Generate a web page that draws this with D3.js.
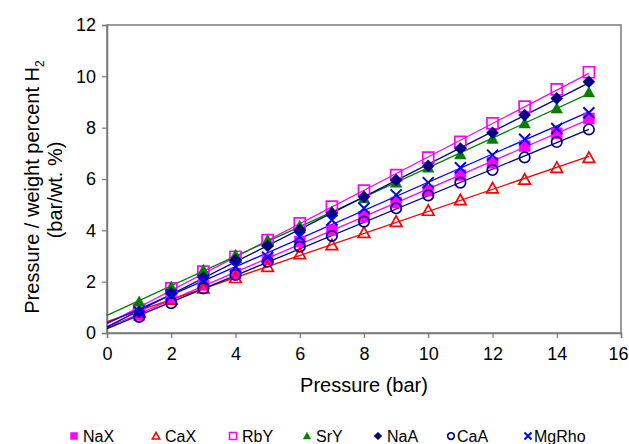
<!DOCTYPE html>
<head>
<meta charset="utf-8">
<style>
body { margin: 0; background: #fff; }
text { font-family: "Liberation Sans", Arial, sans-serif; fill: #000; }
.trend { fill: none; stroke-width: 1.3px; }
</style>
</head>
<body>
<script src="https://cdn.jsdelivr.net/npm/d3@7"></script>
<script>

// pressure points (bar)
var pressures = [1, 2, 3, 4, 5, 6, 7, 8, 9, 10, 11, 12, 13, 14, 15];

// pressure / wt% H2 for each zeolite
var naX   = [0.70, 1.35, 1.87, 2.32, 2.87, 3.56, 4.01, 4.53, 5.08, 5.55, 6.15, 6.63, 7.28, 7.78, 8.36];
var caX   = [0.80, 1.31, 1.74, 2.15, 2.58, 3.08, 3.43, 3.91, 4.34, 4.77, 5.18, 5.64, 5.98, 6.44, 6.83];
var rbY   = [0.90, 1.74, 2.39, 2.97, 3.62, 4.27, 4.92, 5.55, 6.15, 6.83, 7.45, 8.17, 8.82, 9.49, 10.16];
var srY   = [1.22, 1.80, 2.45, 3.04, 3.62, 4.17, 4.73, 5.25, 5.86, 6.45, 6.96, 7.57, 8.17, 8.75, 9.38];
var naA   = [0.83, 1.55, 2.16, 2.84, 3.39, 4.01, 4.66, 5.31, 5.96, 6.51, 7.19, 7.80, 8.49, 9.14, 9.79];
var caA   = [0.63, 1.16, 1.74, 2.26, 2.78, 3.36, 3.78, 4.34, 4.86, 5.36, 5.86, 6.35, 6.84, 7.44, 7.93];
var mgRho = [0.83, 1.48, 2.06, 2.58, 2.95, 3.75, 4.40, 4.86, 5.38, 5.86, 6.44, 6.93, 7.55, 7.97, 8.58];

var seriesNames = ["NaX", "CaX", "RbY", "SrY", "NaA", "CaA", "MgRho"];
var xTicks = [0, 2, 4, 6, 8, 10, 12, 14, 16];
var yTicks = [0, 2, 4, 6, 8, 10, 12];

// look of each series
var styles = {
  NaX:   {color: "#ff00ff", shape: "square",   filled: true},
  CaX:   {color: "#ff0000", shape: "triangle", filled: false},
  RbY:   {color: "#ff00ff", shape: "square",   filled: false},
  SrY:   {color: "#008000", shape: "triangle", filled: true},
  NaA:   {color: "#000080", shape: "diamond",  filled: true},
  CaA:   {color: "#000080", shape: "circle",   filled: false},
  MgRho: {color: "#0000ff", shape: "cross",    filled: false}
};

var seriesData = {NaX: naX, CaX: caX, RbY: rbY, SrY: srY, NaA: naA, CaA: caA, MgRho: mgRho};

var W = 629, H = 444;
var plot = {left: 107, right: 621, top: 25, bottom: 333};

var x = d3.scaleLinear().domain([0, 16]).range([plot.left, plot.right]);
var y = d3.scaleLinear().domain([0, 12]).range([plot.bottom, plot.top]);

var svg = d3.select("body").append("svg")
    .attr("width", W)
    .attr("height", H);

// marker paths, s = half size
function markerPath(shape, s) {
  if (shape == "square") return "M" + (-s) + "," + (-s) + "h" + (2*s) + "v" + (2*s) + "h" + (-2*s) + "Z";
  if (shape == "triangle") return "M0," + (-s*1.05) + "L" + (s*1.05) + "," + (s*0.85) + "L" + (-s*1.05) + "," + (s*0.85) + "Z";
  if (shape == "diamond") return "M0," + (-s*1.1) + "L" + (s*1.1) + ",0L0," + (s*1.1) + "L" + (-s*1.1) + ",0Z";
  if (shape == "circle") return d3.arc()({innerRadius: 0, outerRadius: s*0.95, startAngle: 0, endAngle: 2*Math.PI});
  if (shape == "cross") return "M" + (-s) + "," + (-s) + "L" + s + "," + s + "M" + s + "," + (-s) + "L" + (-s) + "," + s;
}

function drawMarker(g, st, s, sw) {
  g.append("path")
    .attr("d", markerPath(st.shape, s))
    .attr("fill", st.filled ? st.color : "none")
    .attr("stroke", st.color)
    .attr("stroke-width", st.filled ? 0.5 : sw);
}

// plot frame
svg.append("rect")
    .attr("x", plot.left).attr("y", plot.top)
    .attr("width", plot.right - plot.left)
    .attr("height", plot.bottom - plot.top)
    .attr("fill", "none")
    .attr("stroke", "#7a7a7a")
    .attr("stroke-width", 1.5);

// axes
var xAxis = svg.append("g")
    .attr("transform", "translate(0," + plot.bottom + ")")
    .call(d3.axisBottom(x).tickValues(xTicks).tickSize(5).tickPadding(9));
var yAxis = svg.append("g")
    .attr("transform", "translate(" + plot.left + ",0)")
    .call(d3.axisLeft(y).tickValues(yTicks).tickSize(5).tickPadding(6));

[xAxis, yAxis].forEach(function(a) {
  a.select(".domain").attr("stroke", "#7a7a7a").attr("stroke-width", 1.5);
  a.selectAll(".tick line").attr("stroke", "#7a7a7a").attr("stroke-width", 1.2);
  a.selectAll(".tick text")
    .style("font-family", "'Liberation Sans', Arial, sans-serif")
    .style("font-size", "18px")
    .attr("fill", "#000");
});
// last x label sits at the page edge, pull it in a little
xAxis.selectAll(".tick text").filter(function(d) { return d == 16; }).attr("dx", -3);

// least squares trend line for each series, drawn from 0 to 15 bar
function fit(xs, ys) {
  var mx = d3.mean(xs), my = d3.mean(ys);
  var num = d3.sum(xs, function(v, i) { return (v - mx) * (ys[i] - my); });
  var den = d3.sum(xs, function(v) { return (v - mx) * (v - mx); });
  var b = num / den;
  return {a: my - b * mx, b: b};
}

var line = d3.line()
    .x(function(d) { return x(d[0]); })
    .y(function(d) { return y(d[1]); });

seriesNames.forEach(function(name) {
  var f = fit(pressures, seriesData[name]);
  var x0 = 0, x1 = d3.max(pressures);
  svg.append("path")
      .attr("class", "trend")
      .attr("stroke", styles[name].color)
      .attr("d", line([[x0, f.a + f.b * x0], [x1, f.a + f.b * x1]]));
});

// markers
seriesNames.forEach(function(name) {
  var st = styles[name];
  pressures.forEach(function(p, i) {
    var g = svg.append("g")
        .attr("transform", "translate(" + x(p) + "," + y(seriesData[name][i]) + ")");
    drawMarker(g, st, 5.5, st.shape == "cross" ? 2 : 1.7);
  });
});

// axis titles
svg.append("text")
    .attr("x", (plot.left + plot.right) / 2)
    .attr("y", 392)
    .attr("text-anchor", "middle")
    .style("font-size", "20px")
    .text("Pressure (bar)");

var yt = svg.append("text")
    .attr("transform", "translate(39,187) rotate(-90)")
    .attr("text-anchor", "middle")
    .style("font-size", "20px");
yt.append("tspan").text("Pressure / weight percent H");
yt.append("tspan").attr("dy", 5).style("font-size", "12px").text("2");

svg.append("text")
    .attr("transform", "translate(62,190) rotate(-90)")
    .attr("text-anchor", "middle")
    .style("font-size", "20px")
    .text("(bar/wt. %)");

// legend
var legendX = [74, 156, 233, 307, 378, 451, 528];
seriesNames.forEach(function(name, i) {
  var st = styles[name];
  var g = svg.append("g").attr("transform", "translate(" + legendX[i] + ",436)");
  drawMarker(g, st, 3.5, st.shape == "cross" ? 2 : 1.6);
  svg.append("text")
      .attr("x", legendX[i] + (name == "CaA" || name == "MgRho" ? 6 : 9))
      .attr("y", 442)
      .style("font-size", "16px")
      .text(name);
});

</script>
</body>
